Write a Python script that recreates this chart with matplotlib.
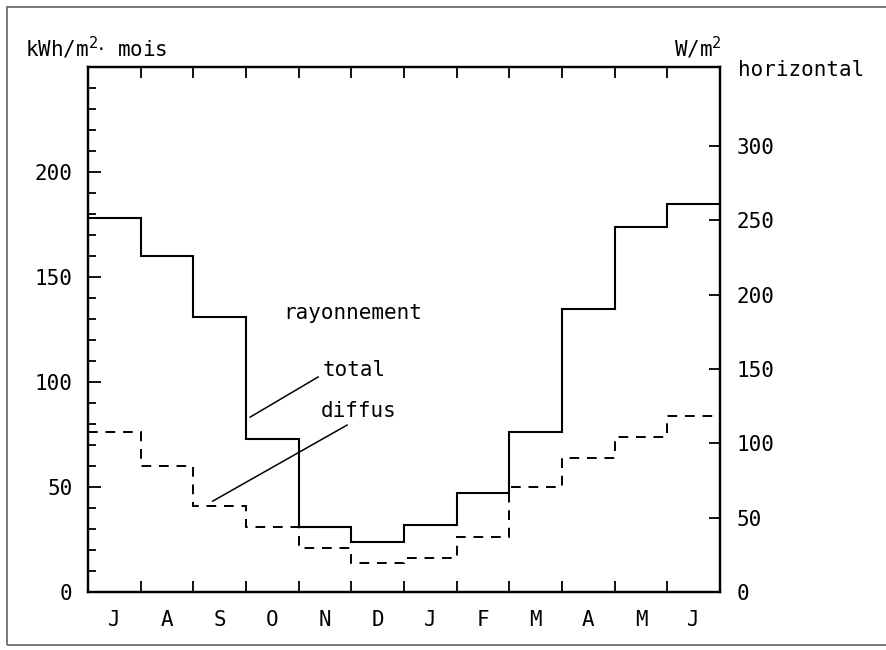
import numpy as np
import matplotlib
matplotlib.use("Agg")
import matplotlib.pyplot as plt
from matplotlib.patches import Rectangle

# mois juillet -> juin
mois = ["J", "A", "S", "O", "N", "D", "J", "F", "M", "A", "M", "J"]
# rayonnement global horizontal, kWh/m2.mois
total = [178, 160, 131, 73, 31, 24, 32, 47, 76, 135, 174, 185]
diffus = [76, 60, 41, 31, 21, 14, 16, 26, 50, 64, 74, 84]

left_ticks = [0, 50, 100, 150, 200]
right_ticks = [0, 50, 100, 150, 200, 250, 300]

plt.rcParams["font.family"] = ["DejaVu Sans Mono"]

fig = plt.figure(figsize=(8.86, 6.5), dpi=100)
ax = fig.add_axes([0.0993, 0.0892, 0.7133, 0.8077])

edges = np.arange(len(mois) + 1)
ax.stairs(total, edges, baseline=None, color="black", lw=1.5)
ax.stairs(diffus, edges, baseline=None, color="black", lw=1.4,
          linestyle=(0, (5, 4)))

ax.set_xlim(0, 12)
ax.set_ylim(0, 250)
for s in ax.spines.values():
    s.set_linewidth(1.6)

ax.set_yticks(left_ticks)
ax.set_yticks(np.arange(0, 250, 10), minor=True)
ax.tick_params(axis="y", which="major", direction="in", length=9, width=1.3,
               labelsize=15, pad=11)
ax.tick_params(axis="y", which="minor", direction="in", length=6, width=1.3)

ax.set_xticks(edges[1:-1])
ax.set_xticklabels([])
ax.set_xticks(edges[:-1] + 0.5, minor=True)
ax.set_xticklabels(mois, minor=True)
ax.tick_params(axis="x", which="major", direction="in", length=8, width=1.3,
               top=True, bottom=True)
ax.tick_params(axis="x", which="minor", length=0, labelsize=15, pad=13)

ax2 = ax.twinx()
ax2.set_ylim(0, 353)
ax2.set_yticks(right_ticks)
ax2.tick_params(axis="y", direction="in", length=8, width=1.3,
                labelsize=15, pad=12)
for s in ax2.spines.values():
    s.set_linewidth(1.6)

# annotations
ax.text(3.7, 133, "rayonnement", fontsize=15, ha="left", va="center")
ax.text(4.45, 105.5, "total", fontsize=15, ha="left", va="center")
ax.text(4.42, 86, "diffus", fontsize=15, ha="left", va="center")
ax.plot([3.08, 4.37], [83.3, 102.4], color="black", lw=1.1)
ax.plot([2.37, 4.92], [43.3, 79.5], color="black", lw=1.1)

# axis units
fig.text(25 / 886, 1 - 48 / 650, "kWh/m$^{2}$$\\cdot$ mois", fontsize=15,
         ha="left", va="center")
fig.text(674 / 886, 1 - 48 / 650, "W/m$^{2}$", fontsize=15,
         ha="left", va="center")
fig.text(738 / 886, 1 - 70 / 650, "horizontal", fontsize=15,
         ha="left", va="center")

# cadre
fig.patches.append(Rectangle((7 / 886, 5 / 650), 1.1, 638 / 650,
                             transform=fig.transFigure, fill=False,
                             edgecolor="#777777", lw=1.4))

fig.savefig("out.png", dpi=100)
